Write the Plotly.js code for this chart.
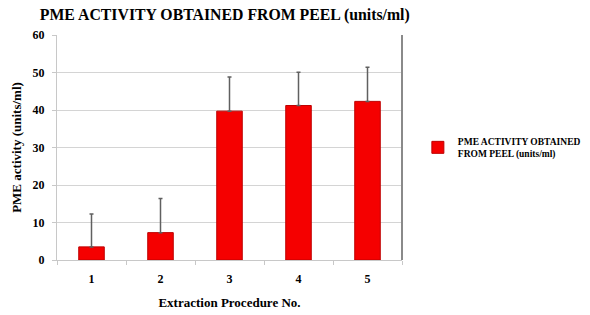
<!DOCTYPE html>
<html>
<head>
<meta charset="utf-8">
<script src="https://cdn.plot.ly/plotly-3.0.1.min.js"></script>
<style>html,body{margin:0;padding:0;background:#fff;}#chart{width:590px;height:315px;}</style>
</head>
<body>
<div id="chart"></div>
<script>
const categories = ['1', '2', '3', '4', '5'];
const pmeActivity = [3.5, 7.3, 39.7, 41.2, 42.3];
const errorPlus = [8.8, 9.1, 9.1, 8.9, 9.1];
const seriesName = 'PME ACTIVITY OBTAINED<br>FROM PEEL (units/ml)';
const yTicks = [0, 10, 20, 30, 40, 50, 60];

const serif = '"Liberation Serif", "DejaVu Serif", serif';

const trace = {
  type: 'bar',
  x: categories,
  y: pmeActivity,
  name: seriesName,
  width: 0.37,
  marker: {color: 'rgb(245,0,0)', line: {color: 'rgb(190,0,0)', width: 1}},
  error_y: {type: 'data', symmetric: false, array: errorPlus, arrayminus: [0,0,0,0,0],
            color: '#606060', thickness: 1.5, width: 2}
};

const layout = {
  width: 590, height: 315,
  margin: {l: 57, r: 188, t: 35, b: 55, autoexpand: false},
  paper_bgcolor: '#fff', plot_bgcolor: '#fff',
  showlegend: true,
  title: {text: 'PME ACTIVITY OBTAINED FROM PEEL (units/ml)',
          font: {family: serif, size: 15.8, color: '#000', weight: 'bold'},
          x: 0.381, xanchor: 'center', y: 0.955, yanchor: 'middle'},
  xaxis: {
    type: 'category', range: [-0.5, 4.5],
    showline: true, linecolor: '#c8c8c8', linewidth: 1,
    ticks: 'outside', ticklen: 4, tickcolor: '#c8c8c8', tickson: 'boundaries',
    showgrid: false, zeroline: false, ticklabelstandoff: 8,
    tickfont: {family: serif, size: 12, color: '#000', weight: 'bold'},
    title: {text: 'Extraction Procedure No.', font: {family: serif, size: 13, color: '#000', weight: 'bold'}, standoff: 12}
  },
  yaxis: {
    range: [0, 60], tickvals: yTicks,
    showline: true, linecolor: '#c8c8c8', linewidth: 1,
    ticks: 'outside', ticklen: 4, tickcolor: '#c8c8c8',
    showgrid: true, gridcolor: '#d4d4d4', gridwidth: 1, zeroline: false,
    ticklabelstandoff: 5,
    tickfont: {family: serif, size: 12, color: '#000', weight: 'bold'},
    title: {text: 'PME activity (units/ml)', font: {family: serif, size: 13, color: '#000', weight: 'bold'}, standoff: 8}
  },
  legend: {x: 1.046, xanchor: 'left', y: 0.5, yanchor: 'middle',
           font: {family: serif, size: 9.5, color: '#000', weight: 'bold'}, bgcolor: 'rgba(0,0,0,0)'},
  shapes: [{type: 'line', xref: 'paper', yref: 'paper', x0: 1, x1: 1, y0: 0, y1: 1,
            line: {color: '#8a8a8a', width: 2}}]
};

Plotly.newPlot('chart', [trace], layout, {displayModeBar: false, staticPlot: true});
</script>
</body>
</html>
